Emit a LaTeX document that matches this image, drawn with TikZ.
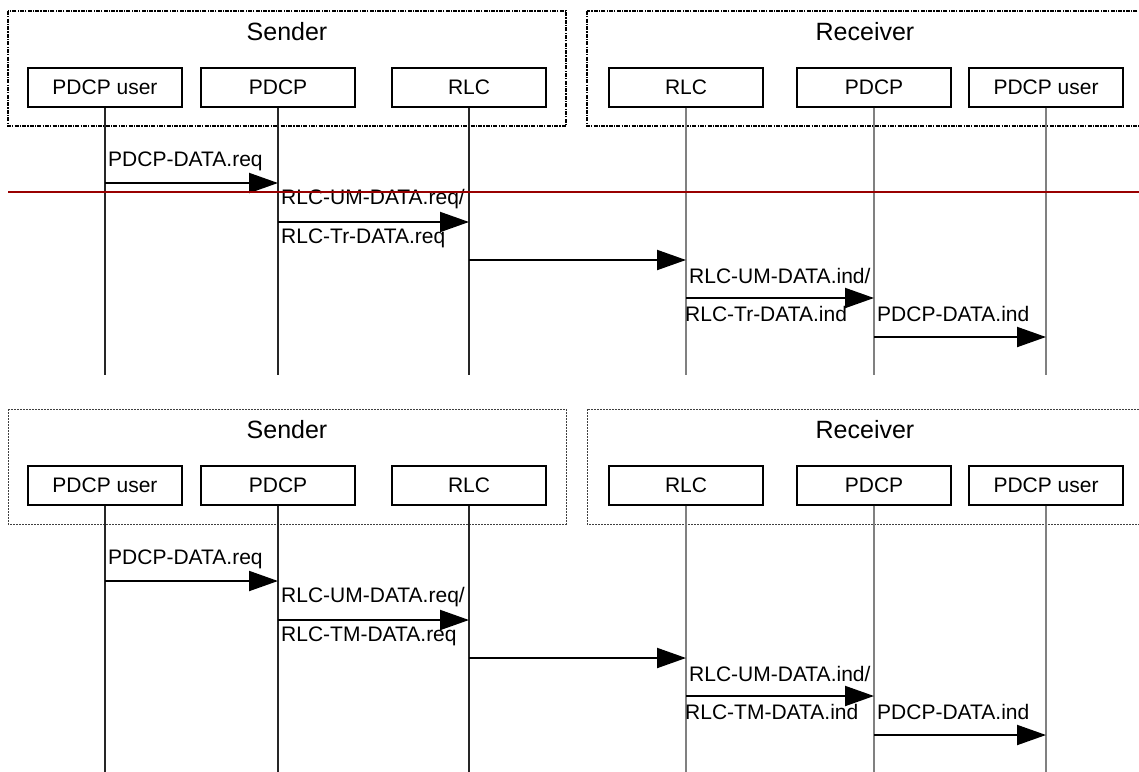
\documentclass[tikz,border=0pt]{standalone}
\usepackage{fontspec}
\setmainfont{Liberation Sans}
\usetikzlibrary{arrows.meta}
\tikzset{
  ent/.style={draw=black, line width=1.4pt, minimum width=154pt, minimum height=39pt, inner sep=0pt, font=\fontsize{21}{25}\selectfont},
  ttl/.style={font=\fontsize{25}{29}\selectfont, inner sep=0pt},
  lbl/.style={anchor=west, inner sep=0pt, font=\fontsize{21}{25}\selectfont},
  lifeS/.style={draw=black!85, line width=1.1pt},
  lifeR/.style={draw=black!50, line width=1.3pt},
  msg/.style={draw=black, line width=2pt, -{Triangle[length=29pt,width=20pt]}},
  frameA/.style={draw=black, line width=1.5pt, dash pattern=on 4pt off 1.2pt on 1.2pt off 1.2pt},
  frameB/.style={draw=black!75, line width=0.9pt, dash pattern=on 2pt off 1pt},
  redline/.style={draw=red!60!black, line width=1.3pt}
}
\newcommand\seqdiag[5]{%
\begin{scope}[yshift=#1]
  \draw[#4] (8,11) rectangle (566,126);
  \draw[#4] (587,11) rectangle (1150,126);
  \node[ttl] (ts#2) at (287,32) {Sender};
  \node[ttl] (tr#2) at (865,32) {Receiver};
  \node[ent] (su#2) at (105,87.5) {PDCP user};
  \node[ent] (sp#2) at (278,87.5) {PDCP};
  \node[ent] (sr#2) at (469,87.5) {RLC};
  \node[ent] (rr#2) at (686,87.5) {RLC};
  \node[ent] (rp#2) at (874,87.5) {PDCP};
  \node[ent] (ru#2) at (1046,87.5) {PDCP user};
  \coordinate (sue#2) at (105,#5);
  \coordinate (spe#2) at (278,#5);
  \coordinate (sre#2) at (469,#5);
  \coordinate (rre#2) at (686,#5);
  \coordinate (rpe#2) at (874,#5);
  \coordinate (rue#2) at (1046,#5);
  \draw[lifeS] (su#2.south) -- (sue#2);
  \draw[lifeS] (sp#2.south) -- (spe#2);
  \draw[lifeS] (sr#2.south) -- (sre#2);
  \draw[lifeR] (rr#2.south) -- (rre#2);
  \draw[lifeR] (rp#2.south) -- (rpe#2);
  \draw[lifeR] (ru#2.south) -- (rue#2);
  % message 1
  \coordinate (m1a#2) at (105,183);
  \coordinate (m1b#2) at (278,183);
  \draw[msg] (m1a#2) -- (m1b#2);
  \node[lbl] (l1#2) at (108,161) {PDCP-DATA.req};
  % message 2
  \coordinate (m2a#2) at (278,222);
  \coordinate (m2b#2) at (469,222);
  \draw[msg] (m2a#2) -- (m2b#2);
  \node[lbl] (l2a#2) at (281,199) {RLC-UM-DATA.req/};
  \node[lbl] (l2b#2) at (281,238) {RLC-#3-DATA.req};
  % message 3
  \coordinate (m3a#2) at (469,260);
  \coordinate (m3b#2) at (686,260);
  \draw[msg] (m3a#2) -- (m3b#2);
  % message 4
  \coordinate (m4a#2) at (686,298);
  \coordinate (m4b#2) at (874,298);
  \draw[msg] (m4a#2) -- (m4b#2);
  \node[lbl] (l4a#2) at (689,276) {RLC-UM-DATA.ind/};
  \node[lbl] (l4b#2) at (685,314) {RLC-#3-DATA.ind};
  % message 5
  \coordinate (m5a#2) at (874,337);
  \coordinate (m5b#2) at (1046,337);
  \draw[msg] (m5a#2) -- (m5b#2);
  \node[lbl] (l5#2) at (877,314) {PDCP-DATA.ind};
\end{scope}}
\begin{document}
\begin{tikzpicture}[x=1pt,y=-1pt]
  \useasboundingbox (0,0) rectangle (1139,771);
  \seqdiag{0pt}{A}{Tr}{frameA}{375}
  \coordinate (rlA) at (8,192);
  \coordinate (rlB) at (1139,192);
  \draw[redline] (rlA) -- (rlB);
  \seqdiag{-398pt}{B}{TM}{frameB}{380}
\end{tikzpicture}
\end{document}
